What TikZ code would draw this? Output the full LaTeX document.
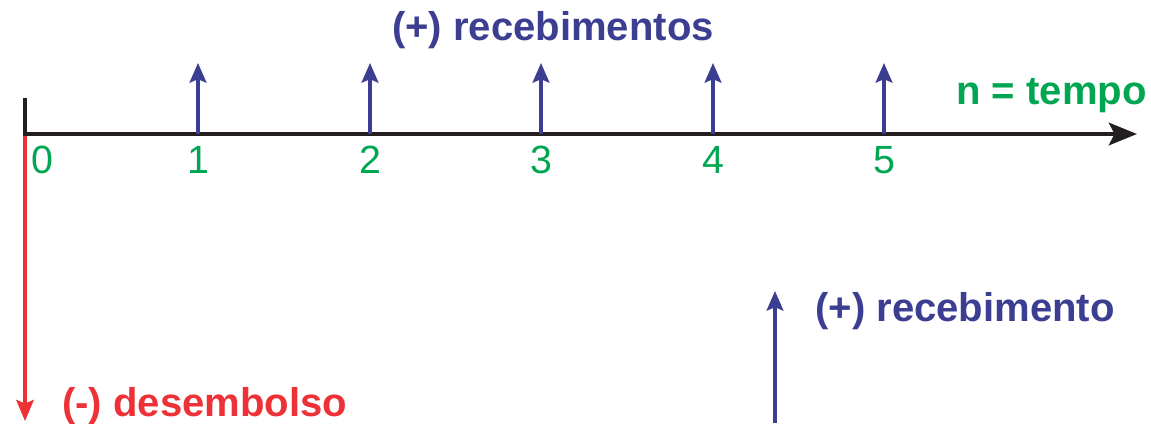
\documentclass[tikz,border=0pt]{standalone}
\usepackage{fontspec}
\setmainfont{Liberation Sans}
\usetikzlibrary{arrows.meta}
\usetikzlibrary{positioning}

\definecolor{fluxoazul}{RGB}{59,62,145}
\definecolor{fluxoverde}{RGB}{0,166,81}
\definecolor{fluxovermelho}{RGB}{237,50,55}
\definecolor{eixocor}{RGB}{35,31,32}

\begin{document}
\begin{tikzpicture}[x=0.025cm,y=-0.025cm,
  rotulo/.style={font=\fontsize{28.5}{34}\selectfont\bfseries, inner sep=0pt},
  numero/.style={font=\fontsize{28}{34}\selectfont, text=fluxoverde, inner sep=0pt, anchor=base},
  entrada/.style={draw=fluxoazul, line width=2.2pt, -{Stealth[length=14pt, width=12pt, inset=2.5pt]}},
  saida/.style={draw=fluxovermelho, line width=2.2pt, -{Stealth[length=15pt, width=12.5pt, inset=2.5pt]}},
  eixo/.style={draw=eixocor, line width=2.8pt, -{Stealth[length=20pt, width=16pt, inset=4pt]}}]

\useasboundingbox (0,0) rectangle (1151,423);

\coordinate (topo) at (25,98);
\coordinate (origem) at (25,134);
\coordinate (fim) at (1137,134);
\coordinate (baixo) at (25,421);

% desembolso na data zero
\draw[saida] (origem) -- (baixo);
\draw[eixo] (topo) -- (origem) -- (fim);
\node[numero] (n0) at (42,173) {0};

% recebimentos
\foreach \i/\xpos in {1/198,2/370,3/541,4/713,5/884} {
  \coordinate (t\i) at (\xpos,134);
  \coordinate (p\i) at (\xpos,63);
  \draw[entrada] (t\i) -- (p\i);
  \node[numero] (n\i) at (\xpos,173) {\i};
}

\node[rotulo, text=fluxoazul, anchor=base] (receb) at (553,40) {(+) recebimentos};
\node[rotulo, text=fluxoverde, anchor=base east] (tempo) at (1147,104) {n = tempo};

% legenda
\coordinate (legbase) at (775,423);
\coordinate (legtopo) at (775,291);
\draw[entrada] (legbase) -- (legtopo);
\node[rotulo, text=fluxoazul, anchor=base west] (legreceb) at (815,321) {(+) recebimento};
\node[rotulo, text=fluxovermelho, anchor=base west] (legdesemb) at (62,416) {(-) desembolso};
\end{tikzpicture}
\end{document}
